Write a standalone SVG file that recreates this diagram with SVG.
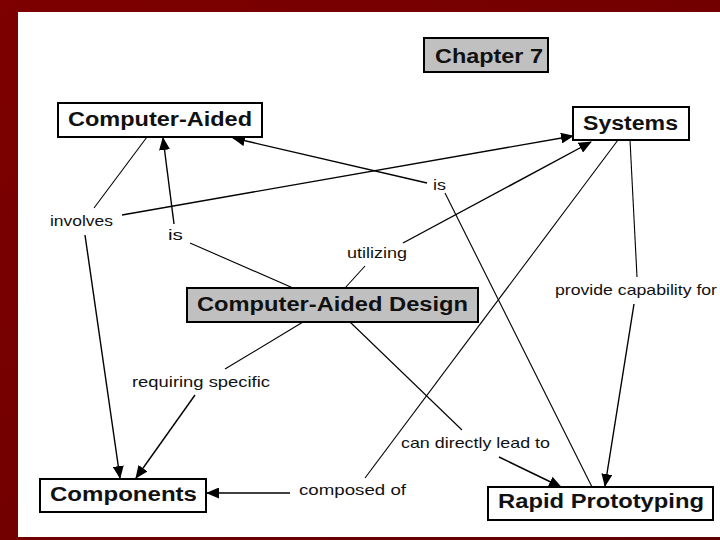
<svg xmlns="http://www.w3.org/2000/svg" width="720" height="540" viewBox="0 0 720 540">
<defs>
<linearGradient id="bg" x1="0" y1="0" x2="1" y2="1">
<stop offset="0" stop-color="#7e0000"/>
<stop offset="0.5" stop-color="#730000"/>
<stop offset="1" stop-color="#5e0000"/>
</linearGradient>
<marker id="ah" markerUnits="userSpaceOnUse" markerWidth="13" markerHeight="11" viewBox="0 0 13 11" refX="12" refY="5.5" orient="auto">
<path d="M0,0 L13,5.5 L0,11 z" fill="#000"/>
</marker>
<style>
.box{fill:#fff;stroke:#000;stroke-width:2}
.gray{fill:#c0c0c0}
.nt{font-family:"Liberation Sans",Arial,sans-serif;font-weight:bold;font-size:20px;fill:#111}
.lt{font-family:"Liberation Sans",Arial,sans-serif;font-size:15px;fill:#111}
.ln{fill:none;stroke:#000;stroke-width:1.1}
.ar{fill:none;stroke:#000;stroke-width:1.4;marker-end:url(#ah)}
</style>
</defs>
<rect x="0" y="0" width="720" height="540" fill="url(#bg)"/>
<rect x="18" y="12" width="702" height="525" fill="#fff"/>

<g id="connectors">
<!-- involves -->
<line class="ln" x1="147" y1="137" x2="94" y2="208"/>
<line class="ar" x1="85" y1="235" x2="120" y2="478"/>
<line class="ar" x1="122" y1="215" x2="573" y2="136"/>
<!-- is (left) -->
<line class="ln" x1="293" y1="288" x2="190" y2="243"/>
<line class="ar" x1="174" y1="224" x2="163" y2="138"/>
<!-- is (right) -->
<line class="ln" x1="592" y1="487" x2="445" y2="193"/>
<line class="ar" x1="427" y1="183" x2="233" y2="138"/>
<!-- utilizing -->
<line class="ln" x1="345" y1="288" x2="365" y2="266"/>
<line class="ar" x1="403" y1="243" x2="591" y2="142"/>
<!-- provide capability for -->
<line class="ln" x1="630" y1="140" x2="637" y2="277"/>
<line class="ar" x1="634" y1="304" x2="605" y2="486"/>
<!-- requiring specific -->
<line class="ln" x1="303" y1="322" x2="225" y2="369"/>
<line class="ar" x1="195" y1="395" x2="136" y2="478"/>
<!-- can directly lead to -->
<line class="ln" x1="350" y1="322" x2="462" y2="430"/>
<line class="ar" x1="499" y1="457" x2="561" y2="487"/>
<!-- composed of -->
<line class="ln" x1="618" y1="140" x2="365" y2="478"/>
<line class="ar" x1="290" y1="493" x2="207" y2="493"/>
</g>

<g id="chapter7">
<rect class="box gray" x="424" y="38" width="124" height="34"/>
<text class="nt" x="435" y="63" textLength="108" lengthAdjust="spacingAndGlyphs">Chapter 7</text>
</g>
<g id="computer-aided">
<rect class="box" x="58" y="103" width="204" height="34"/>
<text class="nt" x="68" y="126" textLength="184" lengthAdjust="spacingAndGlyphs">Computer-Aided</text>
</g>
<g id="systems">
<rect class="box" x="573" y="107" width="116" height="33"/>
<text class="nt" x="583" y="130" textLength="95" lengthAdjust="spacingAndGlyphs">Systems</text>
</g>
<g id="cad">
<rect class="box gray" x="187" y="288" width="291" height="34"/>
<text class="nt" x="197" y="311" textLength="271" lengthAdjust="spacingAndGlyphs">Computer-Aided Design</text>
</g>
<g id="components">
<rect class="box" x="40" y="479" width="166" height="33"/>
<text class="nt" x="50" y="501" textLength="147" lengthAdjust="spacingAndGlyphs">Components</text>
</g>
<g id="rapid-prototyping">
<rect class="box" x="488" y="487" width="225" height="33"/>
<text class="nt" x="498" y="508" textLength="206" lengthAdjust="spacingAndGlyphs">Rapid Prototyping</text>
</g>

<g id="labels">
<text class="lt" x="50" y="226" textLength="63" lengthAdjust="spacingAndGlyphs">involves</text>
<text class="lt" x="168" y="240" textLength="15" lengthAdjust="spacingAndGlyphs">is</text>
<text class="lt" x="433" y="190" textLength="13" lengthAdjust="spacingAndGlyphs">is</text>
<text class="lt" x="347" y="258" textLength="60" lengthAdjust="spacingAndGlyphs">utilizing</text>
<text class="lt" x="555" y="295" textLength="162" lengthAdjust="spacingAndGlyphs">provide capability for</text>
<text class="lt" x="132" y="387" textLength="138" lengthAdjust="spacingAndGlyphs">requiring specific</text>
<text class="lt" x="401" y="448" textLength="149" lengthAdjust="spacingAndGlyphs">can directly lead to</text>
<text class="lt" x="299" y="495" textLength="107" lengthAdjust="spacingAndGlyphs">composed of</text>
</g>
</svg>
